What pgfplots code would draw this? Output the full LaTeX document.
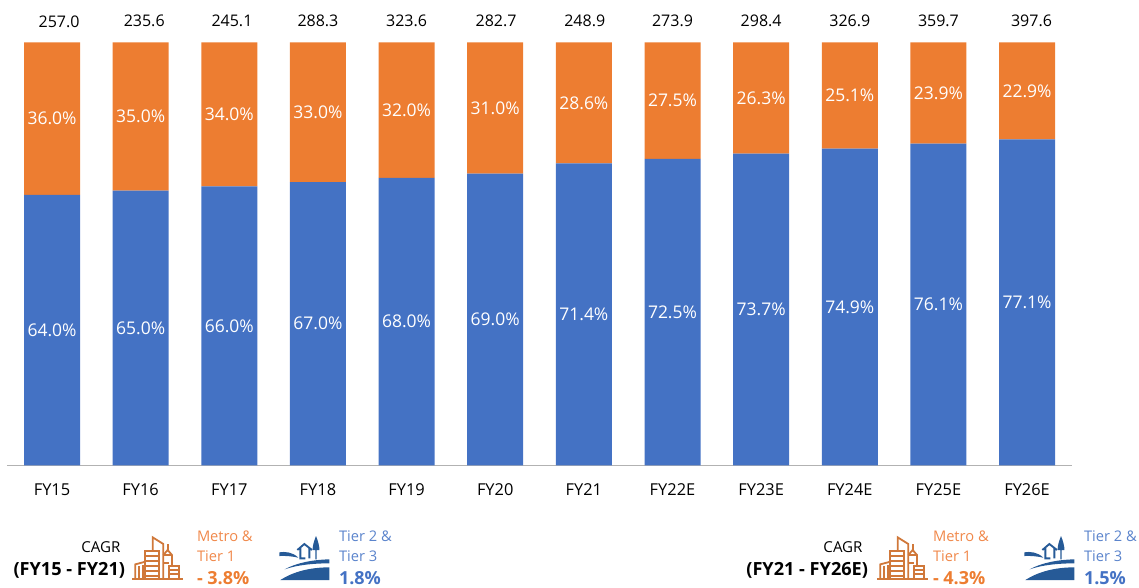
\documentclass[border=0pt]{standalone}
\usepackage{fontspec}
\setmainfont{Open Sans}
\usepackage{pgfplots}
\usepackage{pgfplotstable}
\pgfplotsset{compat=1.18}
\definecolor{cblue}{HTML}{4472C4}
\definecolor{corange}{HTML}{ED7D31}
\definecolor{tblue}{HTML}{5B84CC}
\definecolor{torange}{HTML}{F0884A}
\definecolor{iblue}{HTML}{265A97}
\definecolor{iorange}{HTML}{D0783A}
\pgfplotstableread{
i v
0 64.0
1 65.0
2 66.0
3 67.0
4 68.0
5 69.0
6 71.4
7 72.5
8 73.7
9 74.9
10 76.1
11 77.1
}\tierbottom
\pgfplotstableread{
i v
0 36.0
1 35.0
2 34.0
3 33.0
4 32.0
5 31.0
6 28.6
7 27.5
8 26.3
9 25.1
10 23.9
11 22.9
}\tiertop
\pgfplotstableread{
x y t
0.08 105 257.0
1.04 105 235.6
2.03 105 245.1
3.00 105 288.3
4.00 105 323.6
5.01 105 282.7
6.01 105 248.9
7.00 105 273.9
8.00 105 298.4
9.00 105 326.9
10.00 105 359.7
11.05 105 397.6
}\totals
\newcommand{\buildingicon}{%
 \begin{scope}[yshift=-382.5pt,x=0.25pt,y=-0.25pt,draw=iorange,line width=1.35pt,line cap=butt,line join=miter]
  \draw (396,207)--(548,207);
  \draw (406,207)--(406,163)--(436,155);
  \draw (418,207)--(418,168) (428,207)--(428,165);
  \draw (436,207)--(436,122)--(476,122)--(476,207);
  \draw (436,138)--(476,138) (436,153)--(476,153) (436,168)--(476,168) (436,183)--(476,183) (436,197)--(476,197);
  \draw (458,122)--(458,82)--(490,102)--(490,207);
  \draw (490,135)--(503,120)--(516,135)--(516,167) (490,135)--(516,135);
  \draw (503,120)--(503,102);
  \draw (490,160)--(508,160);
  \draw (508,207)--(508,167)--(538,167)--(538,207);
  \draw (508,180)--(538,180) (508,193)--(538,193);
 \end{scope}}
\newcommand{\landicon}{%
 \begin{scope}[yshift=-382.5pt,x=0.25pt,y=-0.25pt]
  \fill[iblue] (838,127) .. controls (855,124) and (878,126) .. (895,143) .. controls (878,139) and (858,137) .. (838,138)--cycle;
  \fill[iblue] (854,178) .. controls (890,158) and (940,149) .. (988,148)--(988,160) .. controls (940,160) and (890,165) .. (854,178)--cycle;
  \fill[iblue] (841,210) .. controls (880,185) and (930,172) .. (988,172)--(988,210)--cycle;
  \draw[iblue,line width=1.4pt] (892,120)--(913,102)--(936,120) (901,112)--(901,145)--(916,145) (928,112)--(928,145);
  \fill[iblue] (948,78) .. controls (942,92) and (937,110) .. (938,120)--(946,120)--(946,148)--(950,148)--(950,120)--(958,120) .. controls (959,110) and (954,92) .. (948,78)--cycle;
 \end{scope}}
\begin{document}
\begin{tikzpicture}[x=0.75pt,y=-0.75pt]
\useasboundingbox (0,0) rectangle (1139,587);
\begin{axis}[
  at={(5.25pt,-349.1pt)},anchor=south west,
  scale only axis,width=798.75pt,height=317.25pt,
  ybar stacked,bar width=42pt,
  xmin=-0.508,xmax=11.507,ymin=0,ymax=100,
  axis y line=none,
  axis x line*=bottom,
  axis line style={draw=black!30,line width=0.9pt,-},
  xtick={0,...,11},
  xticklabels={FY15,FY16,FY17,FY18,FY19,FY20,FY21,FY22E,FY23E,FY24E,FY25E,FY26E},
  major tick length=0pt,
  x tick label style={font=\fontsize{12.3}{16}\selectfont,yshift=-10.4pt},
  clip=false,
  point meta=explicit symbolic,
  nodes near coords={\pgfplotspointmeta\%},
  every node near coord/.append style={anchor=center,text=white,font=\fontsize{13.1}{16}\selectfont},
]
\addplot[fill=cblue,draw=none] table[x=i,y=v,meta=v]{\tierbottom};
\addplot[fill=corange,draw=none] table[x=i,y=v,meta=v]{\tiertop};
\end{axis}
\begin{axis}[
  at={(5.25pt,-349.1pt)},anchor=south west,
  scale only axis,width=798.75pt,height=317.25pt,
  xmin=-0.508,xmax=11.507,ymin=0,ymax=100,
  hide axis,clip=false,
  point meta=explicit symbolic,
  nodes near coords={\pgfplotspointmeta},
  every node near coord/.append style={anchor=center,text=black,font=\fontsize{12}{16}\selectfont},
]
\addplot[only marks,mark=none,draw=none] table[x=x,y=y,meta=t]{\totals};
\end{axis}
\begin{scope}[every node/.style={inner sep=0pt,outer sep=0pt}]
\foreach \dx/\tx/\m/\t in {0/197/- 3.8\%/1.8\%,745/188/- 4.3\%/1.5\%}{
  \begin{scope}[shift={(\dx,0)}]
   \buildingicon
   \landicon
   \node[anchor=base west,text=torange,font=\fontsize{11}{14}\selectfont] at (\tx,541) {Metro \&};
   \node[anchor=base west,text=torange,font=\fontsize{11}{14}\selectfont] at (\tx,561) {Tier 1};
   \node[anchor=base west,text=corange,font=\bfseries\fontsize{13.5}{18}\selectfont] at (\tx,584) {\m};
   \node[anchor=base west,text=tblue,font=\fontsize{11}{14}\selectfont] at (339,541) {Tier 2 \&};
   \node[anchor=base west,text=tblue,font=\fontsize{11}{14}\selectfont] at (339,561) {Tier 3};
   \node[anchor=base west,text=cblue,font=\bfseries\fontsize{13.5}{18}\selectfont] at (339,584) {\t};
  \end{scope}
}
\node[anchor=base,font=\fontsize{11.3}{15}\selectfont] at (101,552) {CAGR};
\node[anchor=base east,font=\bfseries\fontsize{13.6}{18}\selectfont] at (125,575) {(FY15 - FY21)};
\node[anchor=base,font=\fontsize{11.3}{15}\selectfont] at (843,552) {CAGR};
\node[anchor=base east,font=\bfseries\fontsize{13.6}{18}\selectfont] at (868,575) {(FY21 - FY26E)};
\end{scope}
\end{tikzpicture}
\end{document}
